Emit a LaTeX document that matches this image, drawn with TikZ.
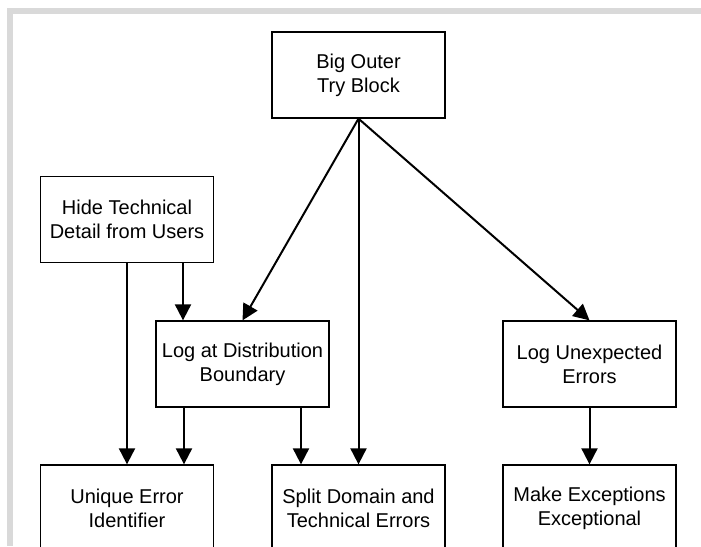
\documentclass[tikz,border=0pt]{standalone}
\usepackage{fontspec}
\setmainfont{Liberation Sans}
\usetikzlibrary{arrows.meta}
\begin{document}
\begin{tikzpicture}[x=1pt,y=-1pt,
  box/.style={draw=black,line width=1.3pt,fill=white,minimum width=173pt,minimum height=86pt,
    align=center,inner sep=0pt,font=\fontsize{20}{24.3}\selectfont},
  arr/.style={line width=2pt,-{Triangle[length=16pt,width=16pt]}}]
\useasboundingbox (0,0) rectangle (701,546);
\clip (0,0) rectangle (701,546);
\fill[white] (0,0) rectangle (701,546);
\fill[gray!30] (7,8) rectangle (701,14);
\fill[gray!30] (7,8) rectangle (13,546);
\node[box] (big) at (358.5,75) {Big Outer\\Try Block};
\node[box] (hide) at (127,219.5) {Hide Technical\\Detail from Users};
\node[box] (logdist) at (242.5,364) {Log at Distribution\\Boundary};
\node[box] (logunexp) at (589.5,364) {Log Unexpected\\Errors};
\node[box] (unique) at (127,508) {Unique Error\\Identifier};
\node[box] (split) at (358.5,508) {Split Domain and\\Technical Errors};
\node[box] (make) at (589.5,508) {Make Exceptions\\Exceptional};
\draw[arr] (big.south) -- (logdist.north);
\draw[arr] (big.south) -- (split.north);
\draw[arr] (big.south) -- (logunexp.north);
\draw[arr] (hide.south) -- (unique.north);
\draw[arr] ([xshift=56pt]hide.south) -- ([xshift=56pt]hide.south |- logdist.north);
\draw[arr] ([xshift=-58.5pt]logdist.south) -- ([xshift=-58.5pt]logdist.south |- unique.north);
\draw[arr] ([xshift=58.5pt]logdist.south) -- ([xshift=58.5pt]logdist.south |- split.north);
\draw[arr] (logunexp.south) -- (make.north);
\end{tikzpicture}
\end{document}
